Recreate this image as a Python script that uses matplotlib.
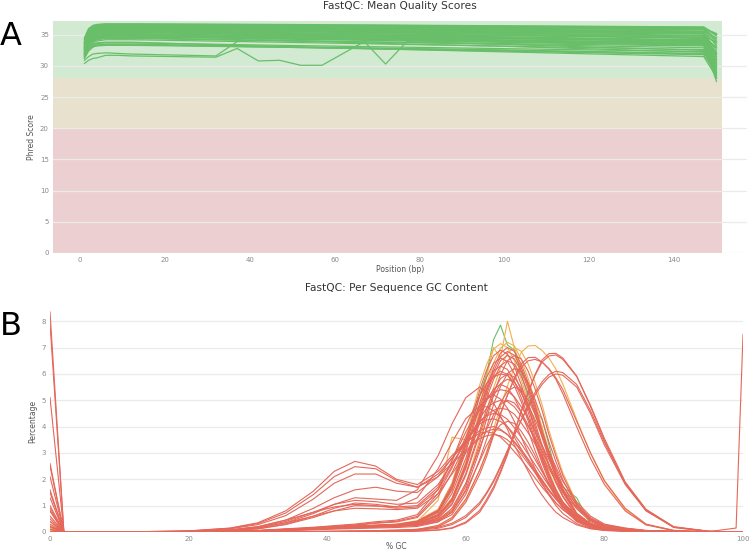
import matplotlib

matplotlib.use("Agg")
import matplotlib.pyplot as plt

# ---- Panel A: FastQC mean quality scores (Phred per base position) ----
qual_pos = [1, 2, 3, 4, 6, 9, 12, 47, 97, 147, 150]
qual_lines = [
    [34.0, 35.8, 36.4, 36.6, 36.7, 36.7, 36.7, 36.6, 36.4, 36.2, 34.8],
    [34.5, 36.0, 36.4, 36.5, 36.6, 36.6, 36.6, 36.5, 36.3, 36.1, 35.0],
    [33.5, 35.4, 36.1, 36.3, 36.5, 36.5, 36.5, 36.35, 36.1, 35.9, 34.0],
    [33.2, 35.1, 35.9, 36.2, 36.4, 36.4, 36.4, 36.2, 36.0, 35.8, 33.2],
    [34.2, 35.5, 36.0, 36.2, 36.3, 36.3, 36.3, 36.1, 35.9, 35.6, 34.5],
    [32.8, 34.9, 35.7, 36.0, 36.2, 36.2, 36.2, 36.0, 35.8, 35.5, 32.0],
    [33.8, 35.2, 35.8, 36.0, 36.1, 36.1, 36.1, 35.9, 35.6, 35.3, 33.5],
    [33.0, 34.8, 35.5, 35.8, 35.9, 36.0, 36.0, 35.7, 35.4, 35.1, 31.5],
    [32.5, 34.5, 35.3, 35.7, 35.9, 35.9, 35.9, 35.6, 35.3, 34.9, 30.5],
    [33.6, 34.9, 35.4, 35.6, 35.7, 35.8, 35.8, 35.5, 35.1, 34.6, 33.0],
    [32.2, 34.2, 35.0, 35.4, 35.6, 35.7, 35.7, 35.3, 34.9, 34.4, 29.5],
    [33.1, 34.6, 35.2, 35.4, 35.5, 35.6, 35.6, 35.2, 34.7, 34.2, 31.0],
    [32.0, 33.9, 34.7, 35.1, 35.3, 35.4, 35.4, 35.0, 34.5, 34.0, 28.5],
    [33.3, 34.4, 34.9, 35.1, 35.2, 35.2, 35.2, 34.8, 34.4, 33.9, 32.3],
    [31.8, 33.6, 34.4, 34.8, 35.0, 35.0, 35.0, 34.6, 34.1, 33.6, 27.5],
    [32.6, 33.9, 34.4, 34.6, 34.8, 34.8, 34.8, 34.4, 33.9, 33.4, 30.0],
    [32.3, 33.7, 34.2, 34.4, 34.6, 34.6, 34.6, 34.4, 34.1, 33.8, 31.8],
    [31.5, 33.2, 33.9, 34.2, 34.4, 34.4, 34.4, 34.0, 33.6, 33.2, 29.0],
    [32.9, 34.1, 34.6, 34.8, 34.9, 34.9, 34.9, 34.9, 34.85, 34.8, 33.8],
    [33.9, 35.6, 36.2, 36.4, 36.45, 36.45, 36.45, 36.35, 36.2, 36.0, 35.2],
    [31.3, 32.6, 33.3, 33.6, 33.7, 33.7, 33.7, 33.3, 32.8, 32.3, 30.3],
    [31.6, 32.7, 33.2, 33.4, 33.5, 33.5, 33.5, 33.1, 32.6, 32.0, 29.6],
    [31.2, 32.4, 33.0, 33.3, 33.4, 33.4, 33.4, 33.0, 32.4, 31.8, 28.8],
    [32.0, 33.0, 33.5, 33.7, 33.8, 33.8, 33.8, 33.1, 32.3, 31.5, 28.2],
    [31.9, 32.8, 33.1, 33.2, 33.3, 33.3, 33.3, 33.0, 32.5, 31.9, 30.8],
    [33.4, 35.3, 36.0, 36.3, 36.55, 36.55, 36.55, 36.4, 36.2, 36.0, 33.8],
    [32.6, 34.7, 35.6, 35.95, 36.15, 36.15, 36.15, 35.95, 35.7, 35.4, 31.2],
    [33.7, 35.0, 35.6, 35.85, 36.0, 36.05, 36.05, 35.8, 35.5, 35.2, 32.6],
    [32.9, 34.6, 35.3, 35.6, 35.8, 35.85, 35.85, 35.55, 35.2, 34.8, 30.0],
    [33.4, 34.7, 35.3, 35.5, 35.6, 35.65, 35.65, 35.35, 34.95, 34.5, 32.0],
    [32.4, 34.3, 35.0, 35.3, 35.45, 35.5, 35.5, 35.1, 34.6, 34.1, 28.0],
    [33.0, 34.4, 35.0, 35.2, 35.35, 35.35, 35.35, 34.95, 34.5, 34.0, 31.5],
    [32.7, 34.1, 34.7, 34.95, 35.1, 35.1, 35.1, 34.7, 34.2, 33.7, 29.2],
    [32.2, 33.8, 34.5, 34.75, 34.9, 34.9, 34.9, 34.5, 34.0, 33.5, 30.6],
    [31.9, 33.5, 34.2, 34.5, 34.7, 34.7, 34.7, 34.3, 33.8, 33.3, 28.6],
    [32.8, 34.0, 34.5, 34.7, 34.8, 34.8, 34.8, 34.6, 34.35, 34.1, 32.9],
    [34.3, 35.9, 36.5, 36.65, 36.75, 36.75, 36.75, 36.65, 36.45, 36.25, 35.0],
    [33.6, 35.5, 36.2, 36.45, 36.6, 36.6, 36.6, 36.45, 36.25, 36.05, 34.3],
    [31.7, 33.4, 34.0, 34.3, 34.5, 34.5, 34.5, 34.1, 33.5, 32.9, 29.8],
    [31.4, 33.0, 33.7, 34.0, 34.2, 34.2, 34.2, 33.8, 33.2, 32.6, 28.0],
]
odd_pos = [1, 2, 3, 4, 6, 9, 12, 32, 37, 42, 47, 52, 57, 62, 67, 72, 77, 97, 122, 147, 150]
odd_lines = [
    [30.4, 30.9, 31.2, 31.3, 31.7, 31.7, 31.6, 31.4, 32.8, 30.8, 30.9, 30.1, 30.1,
     32.0, 33.9, 30.3, 33.9, 33.5, 33.0, 32.5, 29.0],
    [30.9, 31.5, 31.9, 32.0, 32.1, 32.0, 31.9, 31.6, 33.9, 34.2, 34.1, 34.0, 33.9,
     33.8, 33.7, 33.6, 33.5, 33.2, 32.7, 32.2, 30.0],
]
qual_bands = [(28, 37.2, "#d1ead1"), (20, 28, "#e8e1cd"), (0, 20, "#eccfd0")]

# ---- Panel B: FastQC per sequence GC content ----
gc_pct = [0, 2, 10, 20, 26, 30, 34, 38, 41, 44, 47, 50, 53, 56, 58, 60, 62, 63, 64,
          65, 66, 67, 68, 69, 70, 71, 72, 73, 74, 76, 78, 80, 83, 86, 90, 95, 99, 100]
gc_pass = [
    [0.1, 0, 0, 0.01, 0.02, 0.04, 0.08, 0.13, 0.17, 0.2, 0.23, 0.27, 0.4, 0.8, 1.7,
     3.3, 5.2, 6.0, 7.3, 7.85, 7.1, 6.9, 6.0, 5.1, 4.6, 4.3, 3.3, 2.2, 1.7, 1.3, 0.3,
     0.12, 0.05, 0.03, 0.01, 0, 0, 0],
]
gc_warn = [
    [0.25, 0, 0, 0.01, 0.02, 0.04, 0.09, 0.14, 0.18, 0.22, 0.25, 0.29, 0.36, 0.65, 1.30,
     2.66, 4.61, 5.62, 6.41, 6.98, 7.2, 7.06, 6.55, 5.83, 4.97, 3.96, 3.10, 2.30, 1.66,
     0.72, 0.32, 0.14, 0.07, 0.04, 0.01, 0.01, 0, 0],
    [0.15, 0, 0, 0.01, 0.01, 0.04, 0.08, 0.13, 0.17, 0.20, 0.24, 0.28, 0.32, 0.49, 0.84,
     1.82, 3.5, 4.48, 5.46, 6.23, 6.79, 7.0, 6.86, 6.37, 5.67, 4.83, 3.85, 3.01, 2.24,
     1.12, 0.49, 0.21, 0.08, 0.04, 0.02, 0.01, 0, 0],
    [0.2, 0, 0, 0.01, 0.02, 0.04, 0.08, 0.13, 0.17, 0.2, 0.24, 0.28, 0.4, 1.2, 3.6,
     3.5, 4.8, 5.9, 7.0, 6.6, 8.0, 7.0, 6.2, 5.5, 4.4, 4.0, 2.8, 2.1, 1.5, 0.7, 0.3,
     0.13, 0.06, 0.03, 0.01, 0, 0, 0],
    [0.05, 0, 0, 0, 0, 0, 0, 0, 0, 0.01, 0.01, 0.04, 0.07, 0.21, 0.50, 1.21, 2.34,
     3.05, 3.91, 4.76, 5.54, 6.25, 6.82, 7.06, 7.08, 6.89, 6.60, 6.18, 5.61, 4.26,
     2.98, 1.92, 0.85, 0.28, 0.06, 0.01, 0, 0],
    [0.1, 0, 0, 0.01, 0.02, 0.05, 0.1, 0.15, 0.19, 0.23, 0.26, 0.3, 0.43, 0.86, 1.86,
     3.58, 5.58, 6.36, 6.94, 7.15, 7.0, 6.5, 5.79, 4.93, 3.93, 3.07, 2.29, 1.64, 1.14,
     0.5, 0.21, 0.11, 0.06, 0.03, 0.01, 0.01, 0, 0],
]
gc_fail = [
    [1.5, 0, 0, 0.01, 0.02, 0.04, 0.08, 0.14, 0.18, 0.21, 0.25, 0.28, 0.35, 0.63, 1.26,
     2.59, 4.48, 5.46, 6.23, 6.79, 7.0, 6.86, 6.37, 5.67, 4.83, 3.85, 3.01, 2.24, 1.61,
     0.70, 0.32, 0.14, 0.07, 0.04, 0.01, 0.01, 0, 0],
    [0.8, 0, 0, 0.01, 0.02, 0.05, 0.10, 0.15, 0.19, 0.22, 0.26, 0.29, 0.41, 0.83, 1.79,
     3.45, 5.38, 6.14, 6.69, 6.9, 6.76, 6.28, 5.59, 4.76, 3.80, 2.97, 2.21, 1.59, 1.10,
     0.48, 0.21, 0.10, 0.06, 0.03, 0.01, 0.01, 0, 0],
    [2.6, 0, 0, 0.01, 0.01, 0.03, 0.07, 0.13, 0.16, 0.19, 0.23, 0.27, 0.30, 0.47, 0.80,
     1.74, 3.35, 4.29, 5.23, 5.96, 6.50, 6.7, 6.57, 6.10, 5.43, 4.62, 3.69, 2.88, 2.14,
     1.07, 0.47, 0.20, 0.08, 0.04, 0.02, 0.01, 0, 0],
    [0.5, 0, 0, 0.01, 0.02, 0.04, 0.08, 0.13, 0.16, 0.20, 0.23, 0.26, 0.33, 0.59, 1.17,
     2.41, 4.16, 5.07, 5.79, 6.31, 6.5, 6.37, 5.92, 5.27, 4.49, 3.58, 2.80, 2.08, 1.50,
     0.65, 0.29, 0.13, 0.07, 0.03, 0.01, 0.01, 0, 0],
    [1.0, 0, 0, 0.01, 0.02, 0.04, 0.09, 0.14, 0.17, 0.20, 0.23, 0.26, 0.38, 0.76, 1.64,
     3.15, 4.91, 5.61, 6.11, 6.3, 6.17, 5.73, 5.10, 4.35, 3.47, 2.71, 2.02, 1.45, 1.01,
     0.44, 0.19, 0.09, 0.05, 0.03, 0.01, 0.01, 0, 0],
    [2.1, 0, 0, 0.01, 0.03, 0.06, 0.12, 0.18, 0.24, 0.30, 0.39, 0.45, 0.66, 1.62, 2.70,
     4.02, 5.16, 5.64, 5.88, 6.0, 5.94, 5.70, 5.28, 4.80, 4.26, 3.66, 3.06, 2.46, 1.92,
     1.14, 0.60, 0.30, 0.15, 0.06, 0.02, 0.01, 0, 0],
    [0.3, 0, 0, 0.01, 0.02, 0.03, 0.07, 0.12, 0.15, 0.17, 0.20, 0.23, 0.29, 0.52, 1.04,
     2.15, 3.71, 4.52, 5.16, 5.63, 5.8, 5.68, 5.28, 4.70, 4.00, 3.19, 2.49, 1.86, 1.33,
     0.58, 0.26, 0.12, 0.06, 0.03, 0.01, 0.01, 0, 0],
    [1.3, 0, 0, 0.01, 0.03, 0.05, 0.11, 0.16, 0.22, 0.27, 0.35, 0.41, 0.59, 1.46, 2.43,
     3.62, 4.64, 5.08, 5.29, 5.4, 5.35, 5.13, 4.75, 4.32, 3.83, 3.29, 2.75, 2.21, 1.73,
     1.03, 0.54, 0.27, 0.14, 0.05, 0.02, 0.01, 0, 0],
    [0, 0, 0, 0.01, 0.02, 0.03, 0.06, 0.10, 0.13, 0.15, 0.18, 0.20, 0.25, 0.45, 0.90,
     1.85, 3.20, 3.90, 4.45, 4.85, 5.0, 4.90, 4.55, 4.05, 3.45, 2.75, 2.15, 1.60, 1.15,
     0.50, 0.23, 0.10, 0.05, 0.03, 0.01, 0.01, 0, 0],
    [5.1, 0, 0, 0.02, 0.08, 0.2, 0.45, 0.75, 0.95, 1.05, 1.0, 0.9, 0.95, 1.6, 2.5,
     3.47, 4.23, 4.41, 4.5, 4.46, 4.28, 3.96, 3.60, 3.20, 2.75, 2.30, 1.85, 1.44, 1.13,
     0.63, 0.32, 0.18, 0.09, 0.04, 0.01, 0.01, 0, 0],
    [8.35, 0, 0, 0.04, 0.15, 0.35, 0.8, 1.55, 2.3, 2.68, 2.5, 2.0, 1.8, 2.3, 2.9, 3.4,
     3.75, 3.8, 3.75, 3.6, 3.35, 3.05, 2.75, 2.4, 2.05, 1.7, 1.4, 1.1, 0.85, 0.48,
     0.25, 0.12, 0.05, 0.02, 0.01, 0, 0, 0],
    [7.9, 0, 0, 0.04, 0.14, 0.32, 0.72, 1.42, 2.1, 2.48, 2.4, 1.95, 1.7, 2.1, 2.6, 3.1,
     3.55, 3.65, 3.7, 3.65, 3.5, 3.25, 2.95, 2.6, 2.25, 1.9, 1.55, 1.25, 0.95, 0.55,
     0.28, 0.14, 0.06, 0.02, 0.01, 0, 0, 0],
    [2.5, 0, 0, 0.03, 0.12, 0.28, 0.62, 1.25, 1.85, 2.2, 2.2, 1.85, 1.7, 2.2, 2.8, 3.4,
     3.85, 3.95, 4.0, 3.9, 3.7, 3.4, 3.05, 2.7, 2.3, 1.95, 1.6, 1.25, 1.0, 0.55, 0.28,
     0.14, 0.06, 0.02, 0.01, 0, 0, 0],
    [1.6, 0, 0, 0.02, 0.08, 0.2, 0.45, 0.9, 1.3, 1.6, 1.7, 1.55, 1.5, 2.1, 2.8, 3.5,
     4.1, 4.25, 4.3, 4.2, 4.0, 3.7, 3.35, 2.95, 2.55, 2.15, 1.75, 1.4, 1.1, 0.6, 0.3,
     0.15, 0.06, 0.02, 0.01, 0, 0, 0],
    [0.8, 0, 0, 0.02, 0.06, 0.15, 0.35, 0.7, 1.05, 1.3, 1.25, 1.2, 1.6, 2.9, 4.1, 5.1,
     5.5, 5.3, 4.9, 4.4, 3.9, 3.3, 2.8, 2.3, 1.8, 1.4, 1.05, 0.75, 0.55, 0.27, 0.12,
     0.06, 0.03, 0.01, 0, 0, 0, 0],
    [0.4, 0, 0, 0.02, 0.05, 0.12, 0.28, 0.55, 0.8, 1.0, 0.98, 0.95, 1.3, 2.4, 3.4, 4.3,
     4.78, 4.75, 4.6, 4.35, 4.0, 3.6, 3.15, 2.7, 2.25, 1.8, 1.45, 1.1, 0.85, 0.45,
     0.22, 0.1, 0.04, 0.02, 0.01, 0, 0, 0],
    [0.2, 0, 0, 0, 0, 0, 0.01, 0.02, 0.03, 0.04, 0.05, 0.07, 0.10, 0.20, 0.47, 1.13,
     2.19, 2.86, 3.66, 4.46, 5.19, 5.85, 6.38, 6.62, 6.63, 6.45, 6.18, 5.79, 5.25,
     3.99, 2.79, 1.80, 0.80, 0.27, 0.05, 0.01, 0, 0],
    [0, 0, 0, 0, 0, 0, 0.01, 0.02, 0.03, 0.04, 0.05, 0.07, 0.10, 0.25, 0.55, 1.25,
     2.35, 3.0, 3.75, 4.5, 5.2, 5.8, 6.25, 6.5, 6.55, 6.45, 6.2, 5.85, 5.4, 4.2, 3.0,
     1.95, 0.9, 0.3, 0.06, 0.01, 0, 0],
    [0, 0, 0, 0, 0, 0, 0, 0, 0.01, 0.01, 0.01, 0.01, 0.03, 0.07, 0.14, 0.34, 0.75,
     1.16, 1.63, 2.24, 2.92, 3.74, 4.56, 5.30, 5.98, 6.53, 6.77, 6.78, 6.60, 5.92,
     4.76, 3.47, 1.84, 0.82, 0.17, 0.02, 0, 0],
    [0, 0, 0, 0, 0, 0, 0, 0, 0.01, 0.01, 0.01, 0.02, 0.04, 0.08, 0.16, 0.38, 0.82,
     1.24, 1.72, 2.32, 3.0, 3.8, 4.6, 5.3, 5.95, 6.45, 6.68, 6.72, 6.55, 5.9, 4.8,
     3.55, 1.9, 0.86, 0.19, 0.03, 0, 0],
    [0, 0, 0, 0, 0, 0, 0, 0.01, 0.01, 0.02, 0.02, 0.03, 0.06, 0.14, 0.28, 0.55, 1.05,
     1.45, 1.9, 2.45, 3.05, 3.65, 4.25, 4.8, 5.3, 5.7, 5.98, 6.1, 6.05, 5.6, 4.6, 3.4,
     1.85, 0.85, 0.2, 0.03, 0, 0],
    [0, 0, 0, 0, 0, 0, 0, 0.01, 0.01, 0.02, 0.03, 0.04, 0.08, 0.18, 0.33, 0.62, 1.12,
     1.5, 1.95, 2.5, 3.1, 3.7, 4.25, 4.75, 5.2, 5.6, 5.88, 6.0, 5.95, 5.5, 4.5, 3.3,
     1.8, 0.8, 0.18, 0.03, 0, 0],
    [0, 0, 0, 0, 0.01, 0.03, 0.05, 0.08, 0.11, 0.13, 0.15, 0.17, 0.21, 0.38, 0.76,
     1.55, 2.69, 3.28, 3.74, 4.07, 4.2, 4.12, 3.82, 3.40, 2.90, 2.31, 1.81, 1.34, 0.97,
     0.42, 0.19, 0.08, 0.04, 0.02, 0.01, 0.01, 0.15, 7.5],
    [0.6, 0, 0, 0.01, 0.02, 0.04, 0.08, 0.12, 0.15, 0.18, 0.21, 0.24, 0.34, 0.67, 1.46,
     2.80, 4.37, 4.98, 5.43, 5.6, 5.49, 5.10, 4.54, 3.86, 3.08, 2.41, 1.79, 1.29, 0.90,
     0.39, 0.17, 0.08, 0.04, 0.02, 0.01, 0.01, 0, 0],
    [0.1, 0, 0, 0.01, 0.01, 0.03, 0.07, 0.12, 0.15, 0.18, 0.21, 0.25, 0.28, 0.43, 0.74,
     1.61, 3.10, 3.97, 4.84, 5.52, 6.01, 6.2, 6.08, 5.64, 5.02, 4.28, 3.41, 2.67, 1.98,
     0.99, 0.43, 0.19, 0.07, 0.04, 0.02, 0.01, 0, 0],
    [0.2, 0, 0, 0.02, 0.06, 0.15, 0.35, 0.6, 0.8, 0.9, 0.88, 0.85, 0.9, 1.45, 2.2, 3.0,
     3.65, 3.82, 3.9, 3.86, 3.7, 3.43, 3.12, 2.77, 2.38, 1.99, 1.6, 1.25, 0.98, 0.55,
     0.27, 0.16, 0.08, 0.03, 0.01, 0, 0, 0],
    [0.9, 0, 0, 0.01, 0.02, 0.04, 0.07, 0.12, 0.15, 0.18, 0.21, 0.24, 0.30, 0.54, 1.08,
     2.22, 3.84, 4.68, 5.34, 5.82, 6.0, 5.88, 5.46, 4.86, 4.14, 3.30, 2.58, 1.92, 1.38,
     0.60, 0.27, 0.12, 0.06, 0.03, 0.01, 0.01, 0, 0],
    [0, 0, 0, 0.02, 0.07, 0.18, 0.4, 0.75, 1.05, 1.2, 1.15, 1.05, 1.1, 1.8, 2.6, 3.4,
     4.15, 4.45, 4.62, 4.7, 4.65, 4.47, 4.14, 3.76, 3.34, 2.87, 2.40, 1.93, 1.50, 0.89,
     0.47, 0.24, 0.12, 0.05, 0.02, 0.01, 0, 0],
    [0, 0, 0, 0.01, 0.05, 0.12, 0.3, 0.6, 0.9, 1.1, 1.05, 0.95, 1.0, 1.7, 2.7, 3.8,
     4.75, 5.05, 5.2, 5.05, 4.7, 4.2, 3.6, 3.0, 2.4, 1.85, 1.4, 1.0, 0.7, 0.32, 0.14,
     0.06, 0.03, 0.01, 0, 0, 0, 0],
    [0.1, 0, 0, 0.01, 0.02, 0.04, 0.08, 0.14, 0.17, 0.21, 0.24, 0.27, 0.34, 0.62, 1.23,
     2.53, 4.38, 5.34, 6.10, 6.64, 6.85, 6.71, 6.23, 5.55, 4.73, 3.77, 2.95, 2.19, 1.58,
     0.69, 0.31, 0.14, 0.07, 0.03, 0.01, 0.01, 0, 0],
    [0, 0, 0, 0.01, 0.02, 0.05, 0.09, 0.15, 0.18, 0.21, 0.24, 0.28, 0.40, 0.79, 1.72,
     3.30, 5.15, 5.87, 6.40, 6.6, 6.47, 6.01, 5.35, 4.55, 3.63, 2.84, 2.11, 1.52, 1.06,
     0.46, 0.20, 0.10, 0.05, 0.03, 0.01, 0.01, 0, 0],
    [0, 0, 0, 0.01, 0.02, 0.04, 0.08, 0.13, 0.17, 0.20, 0.23, 0.27, 0.34, 0.60, 1.21,
     2.48, 4.29, 5.23, 5.96, 6.50, 6.7, 6.57, 6.10, 5.43, 4.62, 3.69, 2.88, 2.14, 1.54,
     0.67, 0.30, 0.13, 0.07, 0.03, 0.01, 0.01, 0, 0],
    [0.4, 0, 0, 0.01, 0.02, 0.04, 0.09, 0.13, 0.16, 0.20, 0.23, 0.26, 0.37, 0.73, 1.59,
     3.05, 4.76, 5.43, 5.92, 6.1, 5.98, 5.55, 4.94, 4.21, 3.36, 2.62, 1.95, 1.40, 0.98,
     0.43, 0.18, 0.09, 0.05, 0.02, 0.01, 0.01, 0, 0],
    [0, 0, 0, 0.01, 0.01, 0.03, 0.06, 0.10, 0.13, 0.16, 0.19, 0.22, 0.25, 0.39, 0.66,
     1.43, 2.75, 3.52, 4.29, 4.90, 5.34, 5.5, 5.39, 5.01, 4.46, 3.80, 3.03, 2.37, 1.76,
     0.88, 0.39, 0.17, 0.07, 0.03, 0.02, 0.01, 0, 0],
    [0.2, 0, 0, 0.01, 0.03, 0.05, 0.10, 0.15, 0.20, 0.25, 0.33, 0.38, 0.55, 1.35, 2.25,
     3.35, 4.30, 4.70, 4.90, 5.0, 4.95, 4.75, 4.40, 4.00, 3.55, 3.05, 2.55, 2.05, 1.60,
     0.95, 0.50, 0.25, 0.13, 0.05, 0.02, 0.01, 0, 0],
]

GREEN = "#69bf69"
ORANGE = "#f3b04c"
RED = "#e4675a"
TICK_COLOR = "#8a8a8a"
GRID_COLOR = "#ebebeb"


def style_axes(ax):
    for spine in ax.spines.values():
        spine.set_visible(False)
    ax.tick_params(length=0, labelsize=5, labelcolor=TICK_COLOR, pad=3)
    ax.grid(axis="y", color=GRID_COLOR, linewidth=0.9)
    ax.grid(axis="x", visible=False)
    for line in ax.get_ygridlines():
        line.set_zorder(1)


def plot_quality(ax):
    xmin, xmax, band_end = -6.4, 157.2, 151.3
    for low, high, color in qual_bands:
        ax.fill_between([xmin, band_end], low, high, color=color, linewidth=0, zorder=0)

    for values in qual_lines:
        ax.plot(qual_pos, values, color=GREEN, linewidth=0.9, zorder=2)
    for values in odd_lines:
        ax.plot(odd_pos, values, color=GREEN, linewidth=0.9, zorder=2)

    ax.set_xlim(xmin, xmax)
    ax.set_ylim(0, 37.2)
    ax.set_xticks(range(0, 141, 20))
    ax.set_yticks(range(0, 36, 5))
    style_axes(ax)
    ax.set_title("FastQC: Mean Quality Scores", fontsize=7.7, color="#333333", pad=8.5)
    ax.set_xlabel("Position (bp)", fontsize=5.5, color="#555555", labelpad=1.5)
    ax.set_ylabel("Phred Score", fontsize=5.5, color="#555555", labelpad=3)


def plot_gc(ax):
    for values in gc_pass:
        ax.plot(gc_pct, values, color=GREEN, linewidth=0.8, zorder=2)
    for values in gc_warn:
        ax.plot(gc_pct, values, color=ORANGE, linewidth=0.8, zorder=2)
    for values in gc_fail:
        ax.plot(gc_pct, values, color=RED, linewidth=0.8, zorder=3)

    ax.set_xlim(0, 100)
    ax.set_ylim(0, 8.4)
    ax.set_xticks(range(0, 101, 20))
    ax.set_yticks(range(0, 9))
    style_axes(ax)
    ax.set_title("FastQC: Per Sequence GC Content", fontsize=7.7, color="#333333", pad=14)
    ax.set_xlabel("% GC", fontsize=5.5, color="#555555", labelpad=0)
    ax.set_ylabel("Percentage", fontsize=5.5, color="#555555", labelpad=3)


def main():
    fig = plt.figure(figsize=(7.5, 5.53), dpi=100)

    ax_qual = fig.add_axes([0.0707, 0.5425, 0.9253, 0.4195])
    ax_gc = fig.add_axes([0.0667, 0.0380, 0.9240, 0.4002])

    plot_quality(ax_qual)
    plot_gc(ax_gc)

    fig.text(0.0, 0.918, "A", fontsize=23, ha="left", va="baseline")
    fig.text(0.0, 0.394, "B", fontsize=23, ha="left", va="baseline")

    fig.savefig("out.png", dpi=100)
    plt.close(fig)


if __name__ == "__main__":
    main()
